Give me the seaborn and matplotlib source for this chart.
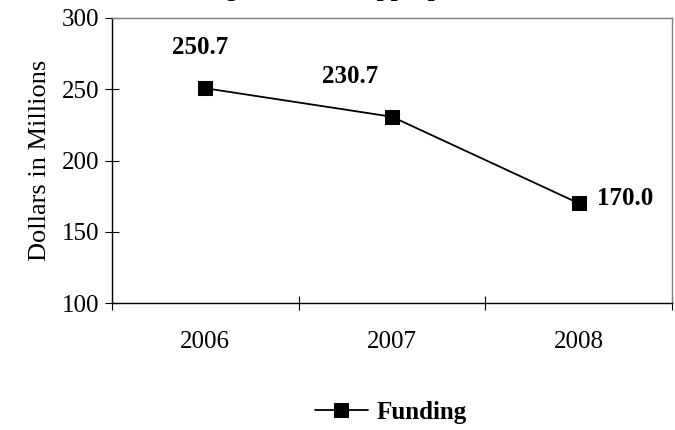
import matplotlib
matplotlib.use('Agg')
import matplotlib.pyplot as plt
import seaborn as sns
import pandas as pd

years = ['2006', '2007', '2008']
funding = [250.7, 230.7, 170.0]
label_text = ['250.7', '230.7', '170.0']
y_ticks = [100, 150, 200, 250, 300]

sns.set_style('white')
plt.rcParams['font.family'] = ['Liberation Serif', 'DejaVu Serif']
plt.rcParams.update({'text.color': 'black', 'axes.labelcolor': 'black',
                     'xtick.color': 'black', 'ytick.color': 'black',
                     'xtick.bottom': True, 'ytick.left': True})

df = pd.DataFrame({'pos': range(len(years)), 'year': years, 'Funding': funding})

fig = plt.figure(figsize=(6.75, 4.3), dpi=100)
ax = fig.add_axes([112/675, 1 - 303/430, (672-112)/675, (303-18)/430])

sns.lineplot(data=df, x='pos', y='Funding', ax=ax, color='black', lw=1.3,
             marker='s', markersize=10, markeredgecolor='black', label='Funding')

# data labels (offsets in points)
offsets = [(-4, 29, 'center', 'center'), (-30, 29, 'center', 'center'), (13, 3.5, 'left', 'center')]
for i, (dx, dy, ha, va) in enumerate(offsets):
    ax.annotate(label_text[i], (i, funding[i]), xytext=(dx, dy), textcoords='offset points',
                ha=ha, va=va, fontsize=18, fontweight='bold')

ax.set_xlim(-0.5, len(years) - 0.5)
ax.set_ylim(100, 300)
ax.set_yticks(y_ticks)
ax.set_yticklabels([str(v) for v in y_ticks], fontsize=18)
ax.set_xticks(range(len(years)))
ax.set_xticklabels(years, fontsize=18)
ax.tick_params(axis='x', which='major', length=0, pad=20)
ax.set_xticks([i - 0.5 for i in range(len(years) + 1)], minor=True)
ax.tick_params(axis='x', which='minor', length=10, direction='inout', width=0.8, color='black')
ax.tick_params(axis='y', length=10, direction='inout', width=0.8, color='black', pad=4)
ax.set_xlabel('')
ax.set_ylabel('Dollars in Millions', fontsize=19, labelpad=8)

for s in ['left', 'bottom']:
    ax.spines[s].set_color('black')
    ax.spines[s].set_linewidth(1.0)
for s in ['top', 'right']:
    ax.spines[s].set_color('#808080')
    ax.spines[s].set_linewidth(1.0)

# title sits above the crop, only its descenders are visible in the reference
fig.text(0.5, 1 + 4/430, 'Nursing Education Appropriations', ha='center', va='baseline',
         fontsize=18, fontweight='bold')

leg = ax.legend(loc='center', bbox_to_anchor=(391/675, 1 - 412/430), bbox_transform=fig.transFigure,
                frameon=False, prop={'size': 18, 'weight': 'bold'}, handlelength=2.1,
                handletextpad=0.36)

fig.savefig('out.png', dpi=100)
